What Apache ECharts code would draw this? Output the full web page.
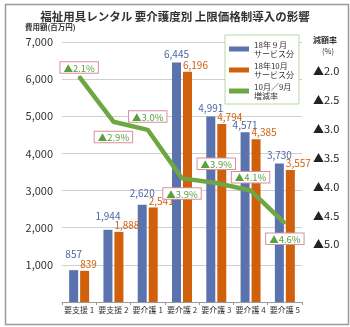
<!DOCTYPE html>
<html>
<head>
<meta charset="utf-8">
<script src="https://cdn.jsdelivr.net/npm/echarts@6/dist/echarts.min.js"></script>
<style>
html,body{margin:0;padding:0;background:#fff;}
#main{width:350px;height:327px;}
</style>
</head>
<body>
<div id="main"></div>
<script>
// ---- data ----
var categories = ['要支援 1', '要支援 2', '要介護 1', '要介護 2', '要介護 3', '要介護 4', '要介護 5'];
var sep2018 = [857, 1944, 2620, 6445, 4991, 4571, 3730];
var oct2018 = [839, 1888, 2541, 6196, 4794, 4385, 3557];
var changeRate = [2.1, 2.88, 3.02, 3.86, 3.94, 4.07, 4.64];
var leftTicks = [1000, 2000, 3000, 4000, 5000, 6000, 7000];
var rightTicks = [2.0, 2.5, 3.0, 3.5, 4.0, 4.5, 5.0];
var seriesNames = ['18年９月\nサービス分', '18年10月\nサービス分', '10月／9月\n増減率'];

// ---- styles (kept apart from data) ----
var rateLabelPos = ['top', 'bottom', 'top', 'bottom', 'top', 'top', 'bottom'];
var rateLabelDist = [3, 9, 7, 9, 13, 7, 9];
var blueLabelDist = [11, 9, 6.5, 3, 3, 2, 3];

var FONT = "'Noto Sans CJK JP', 'Noto Sans', sans-serif";
var fmtNum = function (v) { return Number(v).toLocaleString('en-US'); };

var chart = echarts.init(document.getElementById('main'), null, {renderer: 'canvas'});

var rateData = changeRate.map(function (v, i) {
  return {
    value: v,
    label: {position: rateLabelPos[i], distance: rateLabelDist[i]}
  };
});
var sepData = sep2018.map(function (v, i) {
  return {value: v, label: {distance: blueLabelDist[i]}};
});

var option = {
  backgroundColor: '#fff',
  animation: false,
  textStyle: {fontFamily: FONT},
  title: {
    text: '福祉用具レンタル 要介護度別 上限価格制導入の影響',
    left: 'center',
    top: 6,
    textStyle: {fontSize: 11.5, fontWeight: 'bold', color: '#333', fontFamily: FONT}
  },
  graphic: [
    {type: 'rect', left: 3, top: 2, shape: {width: 343, height: 320},
     style: {fill: 'none', stroke: '#9a9a9a', lineWidth: 1.5}, silent: true},
    {type: 'text', left: 25, top: 23,
     style: {text: '費用額(百万円)', fill: '#333', font: 'bold 7.5px ' + FONT}},
    {type: 'text', left: 313, top: 36,
     style: {text: '減額率', fill: '#333', font: 'bold 8px ' + FONT}},
    {type: 'text', left: 322, top: 47,
     style: {text: '(%)', fill: '#333', font: '7.5px ' + FONT}}
  ],
  legend: {
    orient: 'vertical',
    left: 225,
    top: 35,
    width: 70,
    padding: [5, 5, 4, 4],
    itemGap: 3,
    itemWidth: 20,
    itemHeight: 5,
    backgroundColor: '#fff',
    borderColor: '#b9d9a3',
    borderWidth: 1,
    borderRadius: 0,
    textStyle: {fontSize: 8, lineHeight: 9, color: '#333', width: 37, align: 'right', fontFamily: FONT},
    data: [
      {name: seriesNames[0], icon: 'rect'},
      {name: seriesNames[1], icon: 'rect'},
      {name: seriesNames[2], icon: 'rect'}
    ]
  },
  grid: {left: 62, right: 48, top: 42, bottom: 25, containLabel: false},
  xAxis: {
    type: 'category',
    data: categories,
    axisLine: {show: true, lineStyle: {color: '#999', width: 1}},
    axisTick: {show: true, length: 3, lineStyle: {color: '#999'}},
    axisLabel: {interval: 0, fontSize: 8, color: '#333', margin: 4, fontFamily: FONT}
  },
  yAxis: [
    {
      type: 'value',
      min: 0,
      max: 7000,
      interval: 1000,
      axisLine: {show: false},
      axisTick: {show: false},
      splitLine: {lineStyle: {color: '#d0d0d0', width: 1}},
      axisLabel: {
        fontSize: 11, color: '#333', margin: 9, fontFamily: FONT,
        formatter: function (v) { return leftTicks.indexOf(v) >= 0 ? fmtNum(v) : ''; }
      }
    },
    {
      type: 'value',
      inverse: true,
      min: 1.5,
      max: 6.0,
      interval: 0.5,
      position: 'right',
      axisLine: {show: false},
      axisTick: {show: false},
      splitLine: {show: false},
      axisLabel: {
        fontSize: 11, color: '#222', margin: 11, fontFamily: FONT,
        formatter: function (v) {
          var r = Math.round(v * 10) / 10;
          return rightTicks.indexOf(r) >= 0 ? '▲' + r.toFixed(1) : '';
        }
      }
    }
  ],
  series: [
    {
      name: seriesNames[0],
      type: 'bar',
      data: sepData,
      barWidth: 9,
      barGap: '22%',
      itemStyle: {color: '#5a72ad'},
      label: {
        show: true, position: 'top',
        fontSize: 10, color: '#4c67a6', fontFamily: FONT,
        formatter: function (p) { return fmtNum(p.value); }
      },
      z: 2
    },
    {
      name: seriesNames[1],
      type: 'bar',
      data: oct2018,
      barWidth: 9,
      itemStyle: {color: '#d0600c'},
      label: {
        show: true, position: 'top', distance: 1.5, align: 'left', offset: [-4.5, 0],
        fontSize: 10, color: '#d0600c', fontFamily: FONT,
        formatter: function (p) { return fmtNum(p.value); }
      },
      z: 2
    },
    {
      name: seriesNames[2],
      type: 'line',
      yAxisIndex: 1,
      data: rateData,
      symbol: 'circle',
      symbolSize: 2,
      showSymbol: true,
      lineStyle: {color: '#6ea644', width: 4.5},
      itemStyle: {color: '#6ea644'},
      label: {
        show: true,
        offset: [3, 0],
        fontSize: 9.5,
        color: '#5aa03c',
        backgroundColor: '#fff',
        borderColor: '#d98f9c',
        borderWidth: 1,
        padding: [1, 3, 0, 3],
        fontFamily: FONT,
        formatter: function (p) { return '▲' + Number(p.value).toFixed(1) + '%'; }
      },
      labelLayout: {hideOverlap: false},
      z: 5
    }
  ]
};
chart.setOption(option);
</script>
</body>
</html>
